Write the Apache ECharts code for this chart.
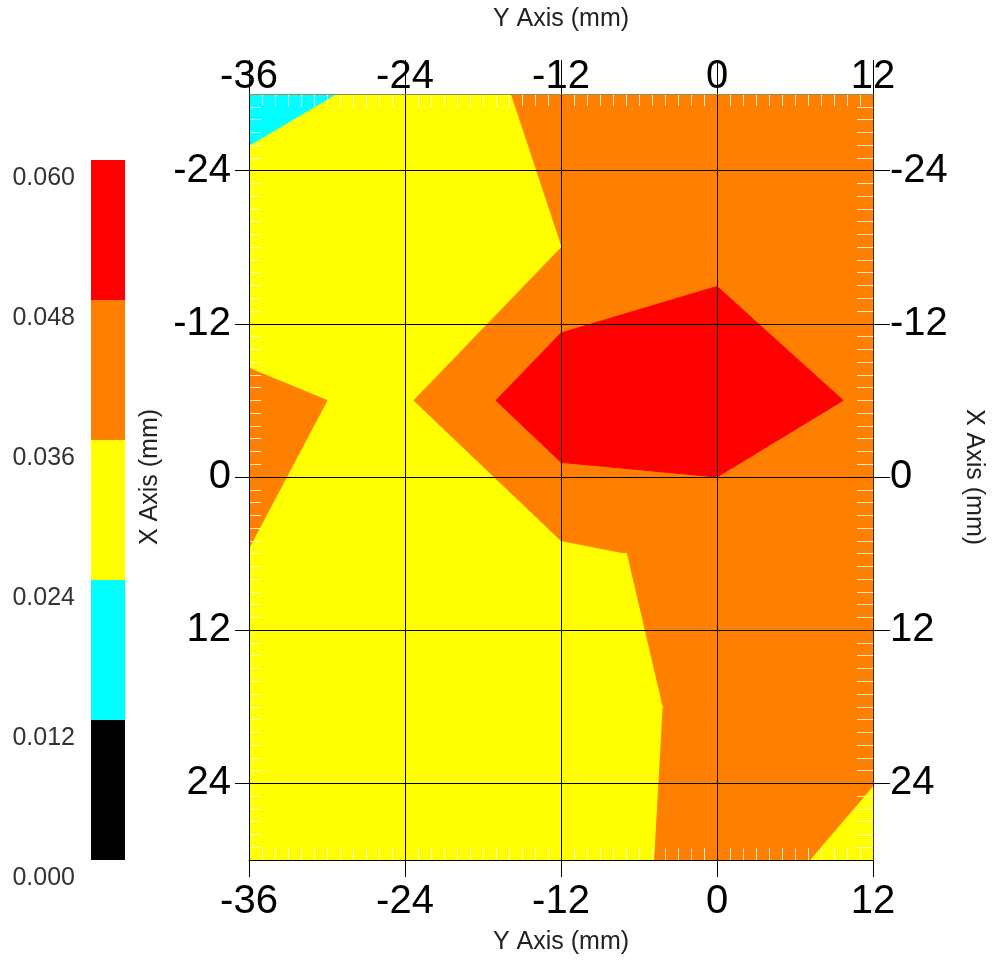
<!DOCTYPE html>
<html><head><meta charset="utf-8">
<script src="https://cdn.jsdelivr.net/npm/echarts@6/dist/echarts.min.js"></script>
<style>html,body{margin:0;padding:0;background:#fff;}#chart{width:993px;height:962px;}</style>
</head><body><div id="chart"></div>
<script>
// measured grid nodes
const xNodes = [-36, -24, -12, 0, 12];
const yNodes = [-30, -18, -6, 6, 18, 30];
// values at nodes, one array per row (row = X Axis position)
const zRowM30 = [0.0203, 0.0268, 0.0403, 0.0420, 0.0420];
const zRowM18 = [0.0311, 0.0320, 0.0359, 0.0448, 0.0440];
const zRowM6  = [0.0373, 0.0347, 0.0575, 0.0573, 0.0458];
const zRowP6  = [0.03595, 0.0320, 0.0340, 0.0387, 0.0420];
const zRowP18 = [0.0300, 0.0300, 0.0284, 0.0400, 0.0392];
const zRowP30 = [0.0290, 0.0290, 0.0294, 0.0404, 0.0330];
// contour levels & colours
const levels = [0, 0.012, 0.024, 0.036, 0.048, 0.060];
const bandColors = ['#000000', '#00FFFF', '#FFFF00', '#FF8000', '#FF0000'];
// tick labels
const xTickValues = [-36, -24, -12, 0, 12];
const yTickValues = [-24, -12, 0, 12, 24];

const zGrid = [zRowM30, zRowM18, zRowM6, zRowP6, zRowP18, zRowP30];
const cells = [];
for (let j = 0; j < yNodes.length - 1; j++)
  for (let i = 0; i < xNodes.length - 1; i++) cells.push([i, j]);

function clip(poly, level, keepAbove) {
  const out = [];
  const n = poly.length;
  for (let q = 0; q < n; q++) {
    const a = poly[q], b = poly[(q + 1) % n];
    const ina = keepAbove ? a[2] >= level : a[2] < level;
    const inb = keepAbove ? b[2] >= level : b[2] < level;
    if (ina) out.push(a);
    if (ina !== inb) {
      const t = (level - a[2]) / (b[2] - a[2]);
      out.push([a[0] + t * (b[0] - a[0]), a[1] + t * (b[1] - a[1]), level]);
    }
  }
  return out;
}

function renderCell(params, api) {
  const i = api.value(0), j = api.value(1);
  const quad = [
    [xNodes[i], yNodes[j], zGrid[j][i]],
    [xNodes[i + 1], yNodes[j], zGrid[j][i + 1]],
    [xNodes[i + 1], yNodes[j + 1], zGrid[j + 1][i + 1]],
    [xNodes[i], yNodes[j + 1], zGrid[j + 1][i]]
  ];
  const children = [];
  for (let k = 0; k < bandColors.length; k++) {
    let poly = quad;
    if (k > 0) poly = clip(poly, levels[k], true);
    if (k < bandColors.length - 1) poly = clip(poly, levels[k + 1], false);
    if (poly.length < 3) continue;
    children.push({
      type: 'polygon',
      shape: { points: poly.map(p => api.coord([p[0], p[1]])) },
      style: { fill: bandColors[k], stroke: bandColors[k], lineWidth: 1 }
    });
  }
  return { type: 'group', children: children };
}

const FONT = 'Liberation Sans, Arial, sans-serif';
const minorColor = 'rgba(255,255,255,0.8)';
const numLabel = { fontSize: 40, color: '#000', fontFamily: FONT };
const nameStyle = { fontSize: 25, color: '#222', fontFamily: FONT };

function xMain(pos, tickLen, labelMargin, nameGap) {
  return {
    gridIndex: 0, type: 'value', position: pos, min: -36, max: 12, interval: 12, z: 5,
    axisLine: { onZero: false, lineStyle: { color: pos === 'top' ? '#a0845c' : '#000', width: 1 } },
    axisTick: { show: true, length: tickLen, customValues: xTickValues, lineStyle: { color: '#000', width: 1 } },
    axisLabel: Object.assign({ margin: labelMargin, customValues: xTickValues }, numLabel),
    splitLine: { show: pos === 'bottom', lineStyle: { color: '#000', width: 1 } },
    name: 'Y Axis (mm)', nameLocation: 'middle', nameGap: nameGap, nameTextStyle: nameStyle
  };
}
function xMinor(pos) {
  return {
    gridIndex: 0, type: 'value', position: pos, min: -36, max: 12, interval: 12, z: 4,
    axisLine: { show: false, onZero: false },
    axisLabel: { show: false },
    axisTick: { show: true, inside: true, length: 12, lineStyle: { color: minorColor, width: 1 } },
    minorTick: { show: true, splitNumber: 12, length: 12, lineStyle: { color: minorColor, width: 1 } },
    splitLine: { show: false }
  };
}
function yMain(pos, tickLen, labelMargin, nameGap, rot) {
  return {
    gridIndex: 0, type: 'value', position: pos, min: -30, max: 30, inverse: true, z: 5,
    axisLine: { onZero: false, lineStyle: { color: pos === 'right' ? '#3a2a1a' : '#000', width: 1 } },
    axisTick: { show: true, length: tickLen, customValues: yTickValues, lineStyle: { color: '#000', width: 1 } },
    axisLabel: Object.assign({ margin: labelMargin, customValues: yTickValues }, numLabel),
    splitLine: { show: pos === 'left', lineStyle: { color: '#000', width: 1 } },
    name: 'X Axis (mm)', nameLocation: 'middle', nameGap: nameGap, nameRotate: rot, nameTextStyle: nameStyle
  };
}
function yMinor(pos, len) {
  return {
    gridIndex: 0, type: 'value', position: pos, min: -30, max: 30, interval: 6, inverse: true, z: 4,
    axisLine: { show: false, onZero: false },
    axisLabel: { show: false },
    axisTick: { show: true, inside: true, length: len, lineStyle: { color: minorColor, width: 1 } },
    minorTick: { show: true, splitNumber: 6, length: len, lineStyle: { color: minorColor, width: 1 } },
    splitLine: { show: false }
  };
}

const chart = echarts.init(document.getElementById('chart'), null, { renderer: 'canvas' });
const option = {
  animation: false,
  backgroundColor: '#fff',
  textStyle: { fontFamily: FONT },
  grid: [
    { left: 249, top: 94, width: 624, height: 766, outerBoundsMode: 'none', containLabel: false },
    { left: 91, top: 160, width: 34, height: 700, outerBoundsMode: 'none', containLabel: false }
  ],
  xAxis: [
    xMain('bottom', 17, 22, 70),
    xMain('top', 34, -3, 62),
    xMinor('bottom'),
    xMinor('top'),
    { gridIndex: 1, type: 'category', data: ['scale'], show: false }
  ],
  yAxis: [
    yMain('left', 14, 18, 86, 90),
    yMain('right', 17, 17, 88, -90),
    yMinor('left', 12),
    yMinor('right', 16),
    {
      gridIndex: 1, type: 'value', position: 'left', min: levels[0], max: levels[levels.length - 1], interval: 0.012,
      axisLine: { show: false }, axisTick: { show: false }, splitLine: { show: false },
      axisLabel: { margin: 16, fontSize: 25, color: '#333', fontFamily: FONT, verticalAlign: 'top',
        padding: [6, 0, 0, 0], formatter: v => v.toFixed(3) }
    }
  ],
  series: [
    {
      type: 'custom', xAxisIndex: 0, yAxisIndex: 0, data: cells, renderItem: renderCell,
      silent: true, clip: true, z: 2
    }
  ].concat(bandColors.map((c, k) => ({
    type: 'bar', xAxisIndex: 4, yAxisIndex: 4, stack: 'scale', barWidth: '100%', silent: true,
    data: [levels[k + 1] - levels[k]], itemStyle: { color: c }
  })))
};
chart.setOption(option);
</script></body></html>
